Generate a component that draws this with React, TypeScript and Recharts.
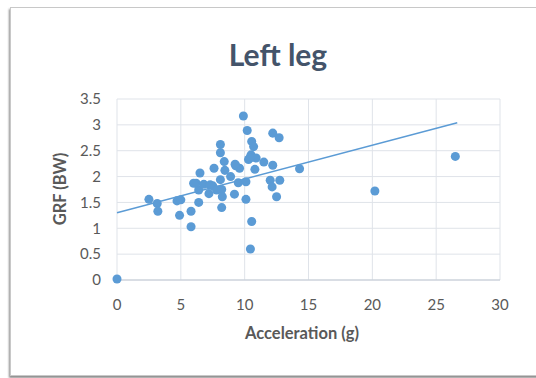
import { ScatterChart, Scatter, XAxis, YAxis, ZAxis, CartesianGrid, ReferenceLine } from "recharts";

// acceleration (g) and GRF (BW) for each trial
const accel = [
  0, 2.5, 3.15, 3.2, 4.7, 5.0, 4.9, 5.8, 5.8, 6.4, 6.4, 6.2, 6.5, 6.8, 7.2, 7.6, 7.5, 7.8, 8.1, 8.2,
  8.25, 8.2, 8.1, 8.1, 8.4, 8.45, 8.9, 9.2, 9.3, 9.6, 9.5, 10.1, 10.1, 9.9, 10.2, 10.55, 10.7, 10.3, 10.5, 10.9,
  10.8, 11.5, 10.55, 10.45, 12.2, 12.7, 12.2, 12.0, 12.15, 12.75, 12.5, 14.3, 20.2, 26.5, 6.0, 7.3, 9.25, 10.4,
];
const grf = [
  0.02, 1.56, 1.48, 1.33, 1.53, 1.55, 1.25, 1.33, 1.03, 1.5, 1.74, 1.87, 2.07, 1.85, 1.67, 2.16, 1.82, 1.74, 1.94, 1.75,
  1.61, 1.4, 2.62, 2.46, 2.29, 2.12, 2.0, 1.66, 2.21, 2.16, 1.88, 1.9, 1.56, 3.17, 2.89, 2.68, 2.58, 2.33, 2.42, 2.36,
  2.14, 2.28, 1.13, 0.6, 2.84, 2.75, 2.22, 1.93, 1.8, 1.93, 1.61, 2.15, 1.72, 2.39, 1.87, 1.84, 2.24, 2.36,
];

const xTicks = [0, 5, 10, 15, 20, 25, 30];
const yTicks = [0, 0.5, 1, 1.5, 2, 2.5, 3, 3.5];

// linear trendline ends as drawn
const trendStart = { x: 0, y: 1.3 };
const trendEnd = { x: 26.65, y: 3.04 };

const points = accel.map((a, i) => ({ accel: a, grf: grf[i] }));

const font = "Lato, 'Open Sans', sans-serif";
const blue = "#5B9BD5";

export default function App() {
  return (
    <div style={{ position: "absolute", left: 0, top: 0, width: 536, height: 378, background: "#fff", overflow: "hidden", fontFamily: font }}>
      <div
        style={{
          position: "absolute",
          left: 10,
          top: 7,
          width: 560,
          height: 367,
          border: "1px solid #c8c8c8",
          boxShadow: "-1px 2px 2px rgba(0,0,0,0.45)",
          background: "#fff",
        }}
      />
      <div
        style={{
          position: "absolute",
          left: 178,
          top: 39,
          width: 200,
          textAlign: "center",
          fontSize: 30,
          lineHeight: "30px",
          fontWeight: 700,
          color: "#44546A",
        }}
      >
        Left leg
      </div>
      <ScatterChart
        width={536}
        height={378}
        margin={{ top: 99, right: 36, bottom: 68, left: 77 }}
        style={{ position: "absolute", left: 0, top: 0 }}
      >
        <CartesianGrid stroke="#dfe3e9" strokeWidth={1} />
        <XAxis
          type="number"
          dataKey="accel"
          domain={[0, 30]}
          ticks={xTicks}
          height={30}
          tickSize={0}
          tickLine={false}
          tickMargin={19}
          axisLine={{ stroke: "#c3cad4" }}
          tick={{ fill: "#595959", fontSize: 15, fontFamily: font }}
        />
        <YAxis
          type="number"
          dataKey="grf"
          domain={[0, 3.5]}
          ticks={yTicks}
          width={40}
          tickSize={0}
          tickLine={false}
          tickMargin={16}
          axisLine={false}
          tick={{ fill: "#595959", fontSize: 15, fontFamily: font }}
        />
        <ZAxis range={[110, 110]} />
        <ReferenceLine
          segment={[trendStart, trendEnd]}
          stroke={blue}
          strokeWidth={1.5}
          ifOverflow="visible"
        />
        <Scatter data={points} fill={blue} isAnimationActive={false} />
      </ScatterChart>
      <div
        style={{
          position: "absolute",
          left: 0,
          top: 178,
          width: 120,
          textAlign: "center",
          fontSize: 16.5,
          lineHeight: "22px",
          fontWeight: 700,
          color: "#595959",
          transform: "rotate(-90deg)",
          transformOrigin: "60px 11px",
        }}
      >
        GRF (BW)
      </div>
      <div
        style={{
          position: "absolute",
          left: 202,
          top: 322,
          width: 200,
          textAlign: "center",
          fontSize: 16.5,
          lineHeight: "22px",
          fontWeight: 700,
          color: "#595959",
        }}
      >
        Acceleration (g)
      </div>
    </div>
  );
}
